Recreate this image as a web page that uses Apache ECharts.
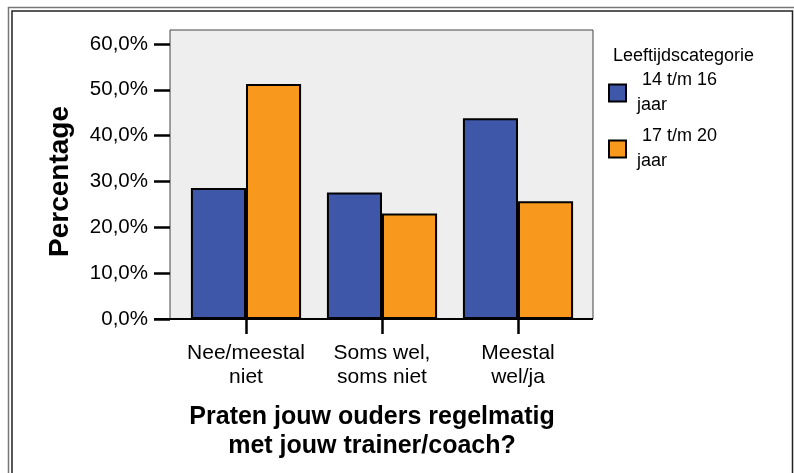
<!DOCTYPE html>
<html>
<head>
<meta charset="utf-8">
<script src="https://cdn.jsdelivr.net/npm/echarts@6/dist/echarts.min.js"></script>
<style>html,body{margin:0;padding:0;background:#fff}#c{width:794px;height:473px}</style>
</head>
<body>
<div id="c"></div>
<script>
const categories = ['Nee/meestal\nniet', 'Soms wel,\nsoms niet', 'Meestal\nwel/ja'];
const seriesNames = [' 14 t/m 16\njaar', ' 17 t/m 20\njaar'];
const age14to16 = [28.6, 27.6, 43.8];
const age17to20 = [51.3, 23.0, 25.7];
const yTicks = { min: 0, max: 60, interval: 10 };
const legendTitle = 'Leeftijdscategorie';
const xTitle = 'Praten jouw ouders regelmatig\nmet jouw trainer/coach?';
const yTitle = 'Percentage';

const FONT = '"Liberation Sans", Arial, Helvetica, sans-serif';
const chart = echarts.init(document.getElementById('c'), null, { renderer: 'canvas' });
chart.setOption({
  animation: false,
  backgroundColor: '#ffffff',
  textStyle: { fontFamily: FONT, color: '#000' },
  graphic: [
    { type: 'rect', z: -10, silent: true, shape: { x: 8.5, y: 7.5, width: 900, height: 600 },
      style: { fill: 'none', stroke: '#777', lineWidth: 1.5 } },
    { type: 'rect', z: -10, silent: true, shape: { x: 12, y: 11, width: 780.5, height: 600 },
      style: { fill: 'none', stroke: '#222', lineWidth: 1.5 } },
    { type: 'rect', z: -5, silent: true, shape: { x: 170, y: 30, width: 423, height: 289 },
      style: { fill: '#eeeeee', stroke: '#444', lineWidth: 1 } },
    { type: 'line', z: 50, silent: true, shape: { x1: 154, y1: 319, x2: 593, y2: 319 },
      style: { stroke: '#000', lineWidth: 2 } }
  ],
  title: [
    { text: legendTitle, left: 613, top: 47, padding: 0,
      textStyle: { fontFamily: FONT, fontSize: 18, fontWeight: 'normal', color: '#000' } },
    { text: xTitle, left: 372, top: 403, padding: 0, textAlign: 'center',
      textStyle: { fontFamily: FONT, fontSize: 25, fontWeight: 'bold', color: '#000', lineHeight: 29, align: 'center' } }
  ],
  legend: {
    orient: 'vertical', left: 608, top: 68, padding: 0,
    itemWidth: 17, itemHeight: 17, itemGap: 6,
    icon: 'rect',
    itemStyle: { borderColor: '#000', borderWidth: 2 },
    textStyle: { fontFamily: FONT, fontSize: 18, lineHeight: 25, color: '#000', padding: [0, 0, 0, 6] },
    data: seriesNames
  },
  grid: { left: 178, right: 208, top: 44, bottom: 154, containLabel: false },
  xAxis: {
    type: 'category', data: categories,
    axisLine: { show: false },
    axisTick: { show: true, alignWithLabel: true, length: 15, lineStyle: { color: '#000', width: 2.5 } },
    axisLabel: { fontFamily: FONT, fontSize: 21, lineHeight: 24, color: '#000', margin: 22, interval: 0 }
  },
  yAxis: {
    type: 'value', min: yTicks.min, max: yTicks.max, interval: yTicks.interval, offset: 8,
    name: yTitle, nameLocation: 'middle', nameGap: 96, nameRotate: 90,
    nameTextStyle: { fontFamily: FONT, fontSize: 28, fontWeight: 'bold', color: '#000' },
    axisLine: { show: false },
    axisTick: { show: true, length: 16, lineStyle: { color: '#000', width: 2.5 } },
    splitLine: { show: false },
    axisLabel: { fontFamily: FONT, fontSize: 20.5, color: '#000', margin: 22,
      formatter: v => v.toFixed(1).replace('.', ',') + '%' }
  },
  series: [
    { name: seriesNames[0], type: 'bar', data: age14to16, barGap: '0%', barCategoryGap: '19%',
      itemStyle: { color: '#3e57a8', borderColor: '#000', borderWidth: 2 } },
    { name: seriesNames[1], type: 'bar', data: age17to20,
      itemStyle: { color: '#f8991e', borderColor: '#000', borderWidth: 2 } }
  ]
});
</script>
</body>
</html>
